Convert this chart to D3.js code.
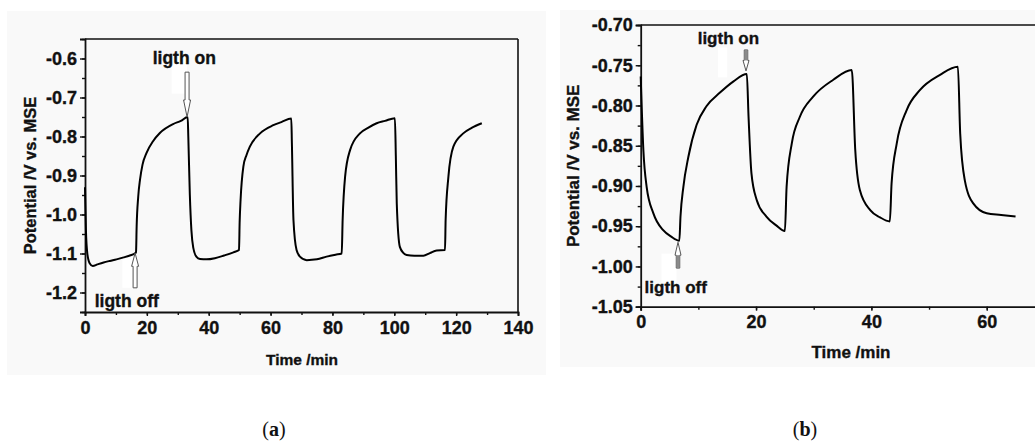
<!DOCTYPE html>
<html><head><meta charset="utf-8">
<script src="https://cdn.jsdelivr.net/npm/d3@7"></script>
<style>
html,body{margin:0;padding:0;background:#fff;}
svg{display:block;}
text{font-family:"Liberation Sans",Arial,sans-serif;font-weight:bold;fill:#111;}
.heavy{stroke:#111;stroke-width:0.35px;}
</style></head>
<body>
<svg id="c" width="1035" height="444"></svg>
<script>
// ---------- DATA ----------
// Panel (a): time (min), potential (V vs. MSE)
const timeA = [0,0.3,0.75,1.5,2.5,4,6,8,10.2,12.5,14.5,16.3,16.5,16.7,17.2,17.8,18.6,19.9,22,24.2,28.5,31,33.2,
  33.4,33.9,34.4,35,36,37.2,39.3,42,45,48,49.8,50.0,50.3,51.2,52.2,53.3,56.6,60.9,63.5,66.7,
  66.9,67.4,68.4,69.5,71.7,75,78.1,81,83,83.3,84.1,85.7,88.9,91.5,94.3,97,100.2,
  100.5,100.8,101.8,103,104,106.5,109.4,111.5,113.7,116.4,116.6,117.5,119.1,122.3,125,128.3];
const potA = [-0.93,-1.04,-1.10,-1.125,-1.132,-1.128,-1.123,-1.119,-1.115,-1.110,-1.105,-1.099,-1.096,-1.03,-0.955,-0.910,-0.872,-0.842,-0.812,-0.791,-0.768,-0.760,-0.750,
  -0.80,-0.95,-1.04,-1.085,-1.108,-1.114,-1.115,-1.112,-1.105,-1.097,-1.091,-1.02,-0.963,-0.877,-0.848,-0.826,-0.792,-0.771,-0.763,-0.754,
  -0.82,-1.014,-1.091,-1.108,-1.117,-1.115,-1.108,-1.103,-1.100,-1.014,-0.903,-0.835,-0.792,-0.778,-0.766,-0.760,-0.753,
  -0.85,-0.971,-1.083,-1.099,-1.104,-1.106,-1.106,-1.099,-1.092,-1.091,-1.014,-0.903,-0.826,-0.792,-0.778,-0.766];

// Panel (b)
const timeB = [0,0.46,1.03,2.2,3.9,5.3,6.7,6.9,7.4,8.26,9.7,11.4,13.75,16.1,18.4,
  18.7,19.2,20.1,21.8,23.5,25.0,25.3,26.2,27.6,29.9,33.4,36.6,
  37.2,38.0,39.8,41.5,43.2,43.5,44.4,46.1,48.4,51.9,55.0,
  55.4,56.2,57.7,60,62.5,65.0];
const potB = [-0.764,-0.855,-0.901,-0.934,-0.955,-0.963,-0.968,-0.938,-0.901,-0.864,-0.824,-0.801,-0.784,-0.770,-0.761,
  -0.814,-0.884,-0.917,-0.938,-0.949,-0.956,-0.901,-0.847,-0.814,-0.789,-0.768,-0.756,
  -0.855,-0.905,-0.930,-0.939,-0.944,-0.897,-0.847,-0.806,-0.781,-0.762,-0.752,
  -0.835,-0.893,-0.922,-0.934,-0.936,-0.938];

// Tick values / labels
const xTicksA = [0,20,40,60,80,100,120,140];
const yTicksA = [-1.2,-1.1,-1.0,-0.9,-0.8,-0.7,-0.6];
const xTicksB = [0,20,40,60];
const yTicksB = [-1.05,-1.00,-0.95,-0.90,-0.85,-0.80,-0.75,-0.70];

// Text
const yTitle = "Potential /V vs. MSE";
const xTitle = "Time /min";
const onLabel = "ligth on";
const offLabel = "ligth off";
const panelLetters = ["a","b"];

// Annotation anchors (data coordinates)
const annA = {on:{t:33.0, tail:-0.635, tip:-0.750, lt:32.1, lv:-0.614}, off:{t:16.2, tail:-1.188, tip:-1.099, lt:13.5, lv:-1.236}};
const annB = {on:{t:18.26, tail:-0.731, tip:-0.757, lt:15.2, lv:-0.724}, off:{t:6.47, tail:-1.002, tip:-0.970, lt:6.07, lv:-1.033}};

// ---------- DRAW ----------
const svg = d3.select("#c");

function panel(o){
  const g = svg.append("g");
  g.append("rect").attr("x",o.bg[0]).attr("y",o.bg[1]).attr("width",o.bg[2]).attr("height",o.bg[3]).attr("fill","#f9f9f9");
  const x = d3.scaleLinear().domain(o.xDom).range([o.left,o.right]);
  const y = d3.scaleLinear().domain(o.yDom).range([o.bottom,o.top]);

  // white patches behind arrows
  o.patches.forEach(p=>{
    g.append("rect").attr("x",x(p[0])).attr("y",y(p[3])).attr("width",x(p[1])-x(p[0])).attr("height",y(p[2])-y(p[3])).attr("fill","#fff");
  });

  // frame
  g.append("line").attr("x1",o.left).attr("x2",o.right).attr("y1",o.top).attr("y2",o.top).attr("stroke","#111").attr("stroke-width",1.6);
  g.append("line").attr("x1",o.right).attr("x2",o.right).attr("y1",o.top).attr("y2",o.bottom).attr("stroke","#111").attr("stroke-width",1.6);

  // axes
  const xMinor = d3.range(o.xDom[0], o.xDom[1]+0.001, o.xMinor);
  const yMinor = d3.range(0, Math.round((o.yDom[1]-o.yDom[0])/o.yMinor)+1).map(i=>o.yDom[0]+i*o.yMinor);
  const ax = g.append("g").attr("transform",`translate(0,${o.bottom})`);
  ax.call(d3.axisBottom(x).tickValues(xMinor).tickSize(3).tickFormat("")).call(s=>s.select(".domain").remove());
  const ax2 = g.append("g").attr("transform",`translate(0,${o.bottom})`);
  ax2.call(d3.axisBottom(x).tickValues(o.xTicks).tickSize(4).tickPadding(5).tickFormat(d3.format("d")));
  const ay = g.append("g").attr("transform",`translate(${o.left},0)`);
  ay.call(d3.axisLeft(y).tickValues(yMinor).tickSize(3).tickFormat("")).call(s=>s.select(".domain").remove());
  const ay2 = g.append("g").attr("transform",`translate(${o.left},0)`);
  ay2.call(d3.axisLeft(y).tickValues(o.yTicks).tickSize(5).tickPadding(3).tickFormat(d3.format(o.yFmt)));
  [ax,ax2,ay,ay2].forEach(a=>{
    a.attr("font-family",null).attr("font-size",null);
    a.selectAll("line").attr("stroke","#111").attr("stroke-width",1.4);
    a.selectAll(".domain").attr("stroke","#111").attr("stroke-width",1.8);
    a.selectAll("text").attr("class","heavy").attr("font-size",o.tickFs).attr("fill","#111");
  });
  ay2.selectAll("text").text(d=>d3.format(o.yFmt)(d).replace("−","-"));

  // curve
  const pts = o.t.map((t,i)=>[t,o.v[i]]);
  g.append("path").datum(pts)
    .attr("d", d3.line().x(d=>x(d[0])).y(d=>y(d[1])).curve(d3.curveMonotoneX))
    .attr("fill","none").attr("stroke","#000").attr("stroke-width",2).attr("stroke-linejoin","round");

  // arrows
  function arrow(a, down){
    const xc = x(a.t), yt = y(a.tail), yp = y(a.tip);
    const len = Math.abs(yp-yt), dir = down?1:-1;
    const hl = len*o.headFrac, sw = o.shaftW/2, hw = o.headW/2;
    const yh = yp - dir*hl;
    const p = d3.path();
    p.moveTo(xc-sw,yt); p.lineTo(xc+sw,yt); p.lineTo(xc+sw,yh); p.lineTo(xc+hw,yh);
    p.lineTo(xc,yp); p.lineTo(xc-hw,yh); p.lineTo(xc-sw,yh); p.closePath();
    g.append("path").attr("d",p.toString()).attr("fill","#fff").attr("stroke","#555").attr("stroke-width",1);
    if(o.shaftFill){
      g.append("rect").attr("x",xc-sw+0.5).attr("width",2*sw-1).attr("y",Math.min(yt,yh)).attr("height",Math.abs(yh-yt)).attr("fill","#8a8a8a");
    }
  }
  arrow(o.ann.on,true);
  arrow(o.ann.off,false);
  g.append("text").attr("class","heavy").attr("x",x(o.ann.on.lt)).attr("y",y(o.ann.on.lv)).attr("text-anchor","middle").attr("font-size",o.annFs).text(onLabel);
  g.append("text").attr("class","heavy").attr("x",x(o.ann.off.lt)).attr("y",y(o.ann.off.lv)).attr("text-anchor","middle").attr("font-size",o.annFs).text(offLabel);

  // titles
  g.append("text").attr("class","heavy").attr("transform",`translate(${o.yTitleX},${(o.top+o.bottom)/2}) rotate(-90)`).attr("text-anchor","middle").attr("dy","0.35em").attr("font-size",o.titleFs).text(yTitle);
  g.append("text").attr("class","heavy").attr("x",o.xTitleX).attr("y",o.xTitleY).attr("text-anchor","middle").attr("font-size",o.xTitleFs).text(xTitle);

  // panel letter
  const lt = svg.append("text").attr("x",o.letterX).attr("y",436).attr("text-anchor","middle")
    .style("font-family","'Liberation Serif','DejaVu Serif',serif").style("font-weight","normal").attr("font-size",20);
  lt.append("tspan").text("(");
  lt.append("tspan").style("font-weight","bold").text(o.letter);
  lt.append("tspan").text(")");
}

panel({bg:[7,11,539,364], left:85, right:518, top:39, bottom:312, xDom:[0,140], yDom:[-1.25,-0.55],
  xTicks:xTicksA, yTicks:yTicksA, xMinor:10, yMinor:0.05, yFmt:".1f", tickFs:18,
  t:timeA, v:potA, ann:annA, headFrac:0.38, shaftW:4, headW:7, shaftFill:false, annFs:17.5,
  patches:[[28.0,33.0,-0.690,-0.585],[12.1,16.2,-1.188,-1.108]],
  yTitleX:30, titleFs:16.5, xTitleX:302, xTitleY:365, xTitleFs:15.5, letter:panelLetters[0], letterX:274});

panel({bg:[560,10,475,357], left:640.7, right:1044.4, top:25, bottom:306.7, xDom:[0,70], yDom:[-1.05,-0.70],
  xTicks:xTicksB, yTicks:yTicksB, xMinor:10, yMinor:0.025, yFmt:".2f", tickFs:18,
  t:timeB, v:potB, ann:annB, headFrac:0.5, shaftW:3.5, headW:6, shaftFill:true, annFs:17,
  patches:[[13.4,15.0,-0.765,-0.728],[3.6,6.2,-1.022,-0.984]],
  yTitleX:573, titleFs:17, xTitleX:851, xTitleY:358, xTitleFs:17, letter:panelLetters[1], letterX:805});
</script>
</body></html>
